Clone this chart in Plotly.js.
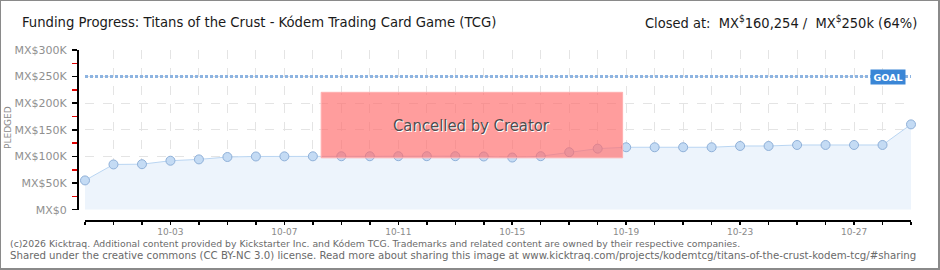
<!DOCTYPE html>
<html>
<head>
<meta charset="utf-8">
<script src="https://cdn.plot.ly/plotly-3.0.1.min.js"></script>
<style>
  html, body { margin: 0; padding: 0; background: #fff; }
  #wrap { position: relative; width: 940px; height: 270px; }
  #chart { width: 940px; height: 270px; }
  #frame { position: absolute; left: 0; top: 0; width: 937px; height: 267px;
           border: 1px solid #8a8a8a; border-right-width: 2px; border-bottom-width: 2px;
           pointer-events: none; }
</style>
</head>
<body>
<div id="wrap"><div id="chart"></div><div id="frame"></div></div>
<script>
// ---- data ----
const dates = ['2025-09-30','2025-10-01','2025-10-02','2025-10-03','2025-10-04','2025-10-05',
  '2025-10-06','2025-10-07','2025-10-08','2025-10-09','2025-10-10','2025-10-11','2025-10-12',
  '2025-10-13','2025-10-14','2025-10-15','2025-10-16','2025-10-17','2025-10-18','2025-10-19',
  '2025-10-20','2025-10-21','2025-10-22','2025-10-23','2025-10-24','2025-10-25','2025-10-26',
  '2025-10-27','2025-10-28','2025-10-29'];
const pledged = [55000, 85000, 85500, 92000, 94500, 99000, 100000, 100200, 100300, 100400,
  100400, 100500, 100500, 100500, 100000, 98000, 100500, 108000, 114700, 117300,
  117300, 117300, 117300, 119700, 119700, 121600, 121600, 121600, 121600, 160254];
const goal = 250000;
const yTickValues = [0, 50000, 100000, 150000, 200000, 250000, 300000];
const yTickLabels = ['MX$0', 'MX$50K', 'MX$100K', 'MX$150K', 'MX$200K', 'MX$250K', 'MX$300K'];
const cancelStart = '2025-10-08 07:00';
const cancelEnd = '2025-10-18 21:00';
const cancelLow = 97500;
const cancelHigh = 220500;
const titleText = 'Funding Progress: Titans of the Crust - Kódem Trading Card Game (TCG)';
const closedText = 'Closed at:  MX<sup>$</sup>160,254 /  MX<sup>$</sup>250k (64%)';
const footer1 = '(c)2026 Kicktraq. Additional content provided by Kickstarter Inc. and Kódem TCG. Trademarks and related content are owned by their respective companies.';
const footer2 = 'Shared under the creative commons (CC BY-NC 3.0) license. Read more about sharing this image at www.kicktraq.com/projects/kodemtcg/titans-of-the-crust-kodem-tcg/#sharing';

// ---- layout helpers (pixel -> paper) ----
const W = 940, H = 270, ML = 77, MR = 29, MT = 50, MB = 50;
const PW = W - ML - MR, PH = H - MT - MB;
const px = x => (x - ML) / PW;
const py = y => (H - MB - y) / PH;
const DAY = 86400000;
const narrow = '"Liberation Sans Narrow", "DejaVu Sans Condensed", "Roboto", sans-serif';
const small = '"DejaVu Sans", Verdana, sans-serif';

const traces = [
  {
    x: dates, y: pledged, type: 'scatter', mode: 'lines+markers',
    fill: 'tozeroy', fillcolor: '#edf4fc',
    line: { color: '#b9d5f2', width: 1 },
    marker: { size: 9, color: '#c4dbf4', line: { color: '#8fb0d8', width: 1 } },
    cliponaxis: false, hoverinfo: 'skip', showlegend: false
  },
  {
    x: [dates[0], dates[dates.length - 1]], y: [goal, goal], type: 'scatter', mode: 'lines',
    line: { color: '#8db4e1', width: 3, dash: '3px,2px' },
    hoverinfo: 'skip', showlegend: false
  }
];

const layout = {
  width: W, height: H,
  margin: { l: ML, r: MR, t: MT, b: MB, pad: 0 },
  paper_bgcolor: '#fff', plot_bgcolor: '#fff',
  showlegend: false,
  xaxis: {
    type: 'date', domain: [8 / PW, 1], anchor: 'free', position: 0,
    range: [dates[0], dates[dates.length - 1]],
    showline: true, linecolor: '#000', linewidth: 1.5,
    ticks: 'outside', ticklen: 3, tickwidth: 1.5, tickcolor: '#000',
    tick0: '2025-10-03', dtick: 4 * DAY, tickformat: '%m-%d',
    tickfont: { family: small, size: 9, color: '#8a8a8a' },
    showgrid: true, gridcolor: '#e4e4e4', griddash: 'dash', gridwidth: 1,
    zeroline: false,
    minor: { dtick: DAY, tick0: dates[0], ticks: 'outside', ticklen: 3, tickwidth: 1.5, tickcolor: '#000',
             showgrid: true, gridcolor: '#e4e4e4', griddash: 'dash', gridwidth: 1 }
  },
  xaxis2: {
    type: 'date', overlaying: 'x', domain: [8 / PW, 1], anchor: 'free', position: 0,
    range: [dates[0], dates[dates.length - 1]],
    showline: false, showgrid: false, zeroline: false, showticklabels: false,
    ticks: 'inside', ticklen: 3, tickwidth: 1.5, tickcolor: '#000',
    tick0: '2025-10-03', dtick: 4 * DAY,
    minor: { dtick: DAY, tick0: dates[0], ticks: 'inside', ticklen: 3, tickwidth: 1.5, tickcolor: '#000', showgrid: false }
  },
  yaxis: {
    domain: [10.3 / PH, 1], anchor: 'free', position: 0,
    range: [0, 300000],
    tickmode: 'array', tickvals: yTickValues, ticktext: yTickLabels,
    showline: true, linecolor: '#000', linewidth: 1.5,
    ticks: 'outside', ticklen: 5, tickwidth: 1.5, tickcolor: '#000',
    ticklabelstandoff: 3,
    tickfont: { family: small, size: 11, color: '#909090' },
    showgrid: true, gridcolor: '#e4e4e4', griddash: 'dash', gridwidth: 1,
    zeroline: false,
    minor: { dtick: 25000, tick0: 0, ticks: 'outside', ticklen: 5, tickwidth: 1.5, tickcolor: '#e00000', showgrid: false }
  },
  shapes: [
    { type: 'rect', xref: 'x', yref: 'y', x0: cancelStart, x1: cancelEnd, y0: cancelLow, y1: cancelHigh,
      fillcolor: 'rgba(255,110,110,0.68)', line: { color: 'rgba(255,175,175,1)', width: 1 }, layer: 'above' }
  ],
  annotations: [
    { xref: 'paper', yref: 'paper', x: px(20), y: py(22), xanchor: 'left', yanchor: 'middle',
      text: titleText, showarrow: false, font: { family: narrow, size: 14.7, color: '#1a1a1a' } },
    { xref: 'paper', yref: 'paper', x: px(919), y: py(22), xanchor: 'right', yanchor: 'middle',
      text: closedText, showarrow: false, font: { family: narrow, size: 14.5, color: '#1a1a1a' } },
    { xref: 'paper', yref: 'paper', x: px(8), y: py(128), xanchor: 'center', yanchor: 'middle',
      text: 'PLEDGED', textangle: -90, showarrow: false, font: { family: small, size: 9, color: '#8a8a8a' } },
    { xref: 'x', yref: 'y', x: '2025-10-13 14:00', y: (cancelLow + cancelHigh) / 2,
      text: 'Cancelled by Creator', showarrow: false,
      font: { family: narrow, size: 16.5, color: '#4d4d4d', shadow: '1px 1px 0px #ffffff' } },
    { xref: 'paper', yref: 'y', x: px(888), y: goal, xanchor: 'center', yanchor: 'middle',
      text: '<b>GOAL</b>', showarrow: false, bgcolor: '#3a86d6', borderpad: 1, width: 32, height: 12,
      font: { family: small, size: 9.5, color: '#ffffff' } },
    { xref: 'paper', yref: 'paper', x: px(8), y: py(243), xanchor: 'left', yanchor: 'middle',
      text: footer1, showarrow: false, font: { family: small, size: 9.3, color: '#6a6a6a' } },
    { xref: 'paper', yref: 'paper', x: px(8), y: py(255), xanchor: 'left', yanchor: 'middle',
      text: footer2, showarrow: false, font: { family: small, size: 10.2, color: '#6a6a6a' } }
  ]
};

Plotly.newPlot('chart', traces, layout, { staticPlot: true, displayModeBar: false });
</script>
</body>
</html>
